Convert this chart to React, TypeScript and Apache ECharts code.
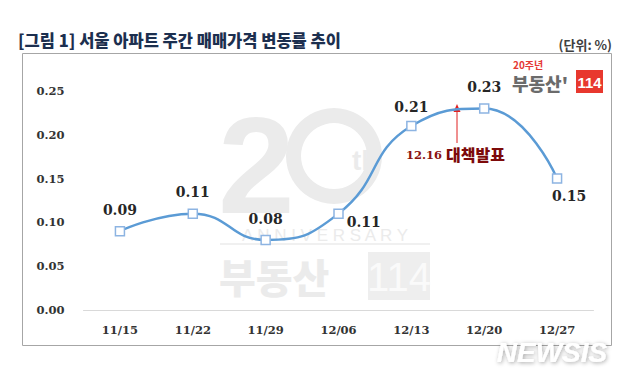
import React, { useEffect, useRef } from "react";
import * as echarts from "echarts";

const categories = ["11/15", "11/22", "11/29", "12/06", "12/13", "12/20", "12/27"];
const values = [0.09, 0.11, 0.08, 0.11, 0.21, 0.23, 0.15];
const yTicks = [0, 0.05, 0.1, 0.15, 0.2, 0.25];
const labelPlacement: { position: string; offset: [number, number] }[] = [
  { position: "top", offset: [0, -4] },
  { position: "top", offset: [0, -4] },
  { position: "top", offset: [0, -4] },
  { position: "right", offset: [-2, 8] },
  { position: "top", offset: [0, -2] },
  { position: "top", offset: [0, -4] },
  { position: "bottom", offset: [12, 0] },
];

const titleText = "[그림 1] 서울 아파트 주간 매매가격 변동률 추이";
const unitText = "(단위: %)";
const annotationDate = "12.16";
const annotationText = "대책발표";

export default function App() {
  const ref = useRef<HTMLDivElement>(null);
  useEffect(() => {
    document.body.style.margin = "0";
    if (!ref.current) return;
    const chart = echarts.init(ref.current, null, { renderer: "svg" });
    const wm = "#ebebeb";
    const serif = "'DejaVu Serif', 'Liberation Serif', serif";
    const kr = "'Noto Sans CJK KR', sans-serif";
    chart.setOption({
      animation: false,
      backgroundColor: "#ffffff",
      grid: { left: 83.5, right: 46.5, top: 91, bottom: 68, containLabel: false },
      xAxis: {
        type: "category",
        data: categories,
        boundaryGap: true,
        axisLine: { show: true, lineStyle: { color: "#d9d9d9", width: 1 } },
        axisTick: { show: false },
        axisLabel: {
          margin: 14,
          color: "#333333",
          fontFamily: serif,
          fontWeight: "bold",
          fontSize: 11.5,
        },
      },
      yAxis: {
        type: "value",
        min: 0,
        max: 0.25,
        interval: 0.05,
        splitLine: { show: false },
        axisLine: { show: false },
        axisTick: { show: false },
        axisLabel: {
          margin: 19,
          color: "#333333",
          fontFamily: serif,
          fontWeight: "bold",
          fontSize: 11.5,
          formatter: (v: number) => (yTicks.some((t) => Math.abs(t - v) < 1e-9) ? v.toFixed(2) : ""),
        },
      },
      graphic: [
        // outer frame
        {
          type: "rect",
          shape: { x: 22.5, y: 53.5, width: 589, height: 292 },
          style: { fill: "none", stroke: "#a6a6a6", lineWidth: 1 },
          z: -10,
        },
        // watermark
        {
          type: "text",
          x: 218,
          y: 96,
          z: -5,
          style: { text: "2", fill: wm, font: "bold 138px 'Liberation Sans', Arial, sans-serif" },
        },
        {
          type: "ring",
          shape: { cx: 334, cy: 156, r: 48, r0: 33 },
          z: -5,
          style: { fill: wm },
        },
        {
          type: "text",
          x: 352,
          y: 146,
          z: -5,
          style: { text: "th", fill: wm, font: "bold 28px 'Liberation Sans', Arial, sans-serif" },
        },
        {
          type: "text",
          x: 325,
          y: 235,
          z: -5,
          style: {
            text: "A N N I V E R S A R Y",
            fill: wm,
            align: "center",
            verticalAlign: "middle",
            font: "17px 'Liberation Sans', Arial, sans-serif",
          },
        },
        {
          type: "line",
          shape: { x1: 220, y1: 244, x2: 430, y2: 244 },
          z: -5,
          style: { stroke: wm, lineWidth: 1.5 },
        },
        {
          type: "text",
          x: 219,
          y: 256,
          z: -5,
          style: { text: "부동산", fill: wm, font: "900 40px 'Noto Sans CJK KR', sans-serif" },
        },
        {
          type: "rect",
          shape: { x: 368, y: 252, width: 62, height: 48 },
          z: -5,
          style: { fill: "#eeeeee" },
        },
        {
          type: "text",
          x: 399,
          y: 277,
          z: -4,
          style: {
            text: "114",
            fill: "#fafafa",
            align: "center",
            verticalAlign: "middle",
            font: "40px 'Liberation Sans Narrow', 'Liberation Sans', sans-serif",
          },
        },
        // title
        {
          type: "text",
          x: 18,
          y: 40,
          style: {
            text: titleText,
            fill: "#1c2f4f",
            verticalAlign: "middle",
            font: `900 16.5px ${kr}`,
          },
        },
        {
          type: "text",
          x: 612,
          y: 44,
          style: {
            text: unitText,
            fill: "#404040",
            align: "right",
            verticalAlign: "middle",
            font: `bold 13px ${kr}`,
          },
        },
        // logo top right
        {
          type: "text",
          x: 513,
          y: 64,
          style: { text: "20주년", fill: "#e53935", verticalAlign: "middle", font: `bold 10px ${kr}` },
        },
        {
          type: "text",
          x: 512,
          y: 83,
          style: { text: "부동산'", fill: "#6b6b6b", verticalAlign: "middle", font: `900 18px ${kr}` },
        },
        {
          type: "rect",
          shape: { x: 576, y: 70, width: 27, height: 23 },
          style: { fill: "#e8382e" },
        },
        {
          type: "text",
          x: 589.5,
          y: 82,
          style: {
            text: "114",
            fill: "#ffffff",
            align: "center",
            verticalAlign: "middle",
            font: "bold 15px 'Liberation Sans Narrow', 'Liberation Sans', sans-serif",
          },
        },
        // annotation arrow
        {
          type: "line",
          shape: { x1: 457, y1: 143, x2: 457, y2: 110 },
          style: { stroke: "#e02020", lineWidth: 1 },
        },
        {
          type: "polygon",
          shape: { points: [[457, 104], [453.5, 112], [460.5, 112]] },
          style: { fill: "#e02020" },
        },
        {
          type: "text",
          x: 442,
          y: 155,
          style: {
            text: annotationDate,
            fill: "#8b1010",
            align: "right",
            verticalAlign: "middle",
            font: `bold 11.5px ${serif}`,
          },
        },
        {
          type: "text",
          x: 446,
          y: 154,
          style: {
            text: annotationText,
            fill: "#7d0a0a",
            verticalAlign: "middle",
            font: `900 16px ${kr}`,
          },
        },
        // NEWSIS watermark
        {
          type: "text",
          x: 552,
          y: 352,
          style: {
            text: "NEWSIS",
            fill: "#ffffff",
            align: "center",
            verticalAlign: "middle",
            font: "italic bold 28px 'Liberation Sans', Arial, sans-serif",
            textShadowColor: "rgba(0,0,0,0.35)",
            textShadowBlur: 4,
            textShadowOffsetX: 1,
            textShadowOffsetY: 1,
          },
          z: 100,
        },
      ],
      series: [
        {
          type: "line",
          data: values.map((v, i) => ({
            value: v,
            label: {
              position: labelPlacement[i].position,
              offset: labelPlacement[i].offset,
            },
          })),
          smooth: 0.5,
          symbol: "rect",
          symbolSize: 9,
          lineStyle: { color: "#5b9bd5", width: 2.5 },
          itemStyle: { color: "#ffffff", borderColor: "#8db4e2", borderWidth: 1.5 },
          label: {
            show: true,
            color: "#262626",
            fontFamily: serif,
            fontWeight: "bold",
            fontSize: 14,
            formatter: (p: any) => Number(p.value).toFixed(2),
          },
          z: 3,
        },
      ],
    });
    return () => chart.dispose();
  }, []);
  return <div ref={ref} style={{ width: 640, height: 378 }} />;
}
